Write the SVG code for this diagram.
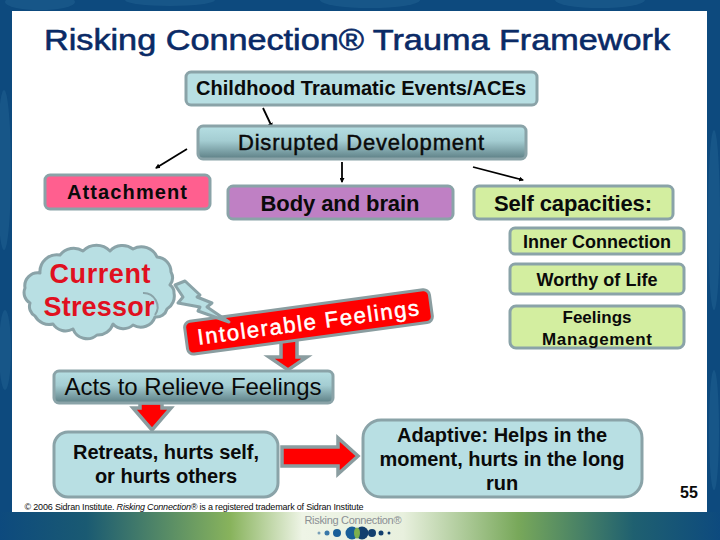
<svg xmlns="http://www.w3.org/2000/svg" width="720" height="540" viewBox="0 0 720 540">
<style>
text{font-family:"Liberation Sans",Arial,sans-serif;fill:#0a0a0a;text-anchor:middle}
.b{font-weight:bold}
.m{stroke:#0a0a0a;stroke-width:.45}
.box{stroke:#8aa3a8;stroke-width:3}
.blue{fill:#b8dfe3}
.lime{fill:#d3eea0}
.flow{stroke:#000;stroke-width:1.800;fill:none;marker-end:url(#tip)}
.blk{fill:#f00;stroke:#8a9da0;stroke-width:3.500;stroke-linejoin:miter}
.bg{fill:#20608f;opacity:.55}
</style>
<defs>
<marker id="tip" markerUnits="userSpaceOnUse" markerWidth="5" markerHeight="5" refX="4" refY="2.500" orient="auto"><path d="M0 0L5 2.500L0 5z" fill="#000"/></marker>
<linearGradient id="steel" x1="0" y1="0" x2="0" y2="1"><stop offset="0" stop-color="#b6dfe3"/><stop offset=".45" stop-color="#a4cdd2"/><stop offset="1" stop-color="#5d7f85"/></linearGradient>
<linearGradient id="foot" x1="0" y1="0" x2="1" y2="0"><stop offset="0" stop-color="#0d4a7e"/><stop offset=".12" stop-color="#1a5a72"/><stop offset=".32" stop-color="#88b35c"/><stop offset=".42" stop-color="#eef4e6"/><stop offset=".56" stop-color="#e8f0de"/><stop offset=".72" stop-color="#78a85a"/><stop offset=".88" stop-color="#1f6070"/><stop offset="1" stop-color="#0d4a7e"/></linearGradient>
</defs>

<rect width="720" height="540" fill="#0d4a7e"/>
<ellipse class="bg" cx="40" cy="2" rx="35" ry="8"/><ellipse class="bg" cx="170" cy="0" rx="45" ry="6"/><ellipse class="bg" cx="370" cy="0" rx="50" ry="8"/><ellipse class="bg" cx="600" cy="0" rx="45" ry="8"/>
<ellipse class="bg" cx="4" cy="170" rx="7" ry="80"/><ellipse class="bg" cx="5" cy="350" rx="6" ry="40"/><ellipse class="bg" cx="714" cy="220" rx="6" ry="90"/><ellipse class="bg" cx="714" cy="430" rx="5" ry="60"/>
<rect x="12" y="11" width="695" height="501" fill="#fff"/>
<rect x="0" y="512" width="720" height="28" fill="url(#foot)"/>

<text id="title" x="357" y="50" font-size="30" textLength="626" lengthAdjust="spacingAndGlyphs" style="fill:#0a2a66;stroke:#0a2a66;stroke-width:.6">Risking Connection® Trauma Framework</text>

<g id="connectors">
<path class="flow" d="M263 108L272 127"/>
<path class="flow" d="M187 149L156 168"/>
<path class="flow" d="M342 162V182"/>
<path class="flow" d="M473 167L523 180"/>
<path class="blk" d="M281 340H297V357H307L288 370L269 357H281z"/>
<path class="blk" d="M140 403H162V408H171L152 430L133 408H140z"/>
<path class="blk" d="M282 447H338V438L358 456L338 474V466H282z"/>
</g>

<g id="childhood"><rect class="box blue" x="186" y="72" width="351" height="33" rx="5"/><text class="b" x="361" y="95" font-size="20" textLength="330">Childhood Traumatic Events/ACEs</text></g>
<g id="disrupted"><rect class="box" fill="url(#steel)" x="198" y="126" width="328" height="33" rx="5"/><text class="m" x="361" y="150" font-size="22" textLength="246">Disrupted Development</text></g>
<g id="attachment"><rect class="box" fill="#ff5f8f" x="45" y="175" width="165" height="34" rx="5"/><text class="b" x="127" y="199" font-size="20" textLength="120">Attachment</text></g>
<g id="body-brain"><rect class="box" fill="#bf80c4" x="228" y="186" width="225" height="33" rx="5"/><text class="b" x="340" y="211" font-size="22" textLength="159">Body and brain</text></g>
<g id="self-capacities"><rect class="box lime" x="474" y="186" width="199" height="33" rx="5"/><text class="b" x="573" y="211" font-size="22" textLength="158">Self capacities:</text></g>
<g id="inner-connection"><rect class="box lime" x="510" y="228" width="174" height="26" rx="5"/><text class="b" x="597" y="248" font-size="18" textLength="148">Inner Connection</text></g>
<g id="worthy"><rect class="box lime" x="510" y="264" width="174" height="30" rx="5"/><text class="b" x="597" y="286" font-size="18" textLength="121">Worthy of Life</text></g>
<g id="feelings-management"><rect class="box lime" x="510" y="306" width="174" height="42" rx="6"/><text class="b" x="597" y="323" font-size="17">Feelings</text><text class="b" x="597" y="345" font-size="17" textLength="110">Management</text></g>

<g id="intolerable" transform="rotate(-7.7 308 322)"><rect x="185" y="305.500" width="247" height="33" rx="6" fill="#f00" stroke="#8a9da0" stroke-width="3"/><text x="308" y="330" font-size="22" textLength="223" style="fill:#fff;stroke:#fff;stroke-width:.5">Intolerable Feelings</text></g>

<g id="stressor">
<path class="box blue" stroke-linejoin="round" d="M175 285L185 281L200 295L197 297L212 303L207 307L229 322L198 311L200 307L178 303L183 297z"/>
<path class="box blue" stroke-linejoin="round" d="M40 273A17 17 0 0 1 60 255A17 17 0 0 1 83 251A19 19 0 0 1 110 251A17 17 0 0 1 133 249A17 17 0 0 1 157 257A15 15 0 0 1 171 272A12 12 0 0 1 170 285A9 9 0 0 1 174 293A15 15 0 0 1 167 309A11 11 0 0 1 155 317A15 15 0 0 1 133 325A14 14 0 0 1 113 324A16 16 0 0 1 97 335A15 15 0 0 1 73 329A15 15 0 0 1 53 324A16 16 0 0 1 35 316A11 11 0 0 1 30 303A12 12 0 0 1 25 288A13 13 0 0 1 40 273z"/>
<path d="M143 293A14 14 0 0 1 155 315" fill="none" stroke="#8aa3a8" stroke-width="2"/>
<text class="b" x="100" y="283" font-size="27" textLength="101" style="fill:#e01020">Current</text>
<text class="b" x="99" y="316" font-size="27" textLength="111" style="fill:#e01020">Stressor</text>
</g>

<g id="acts"><rect class="box" fill="url(#steel)" x="54" y="371" width="279" height="32" rx="5"/><text x="193" y="395" font-size="24" textLength="257">Acts to Relieve Feelings</text></g>
<g id="retreats"><rect class="box blue" x="54" y="432" width="224" height="65" rx="14"/><text class="b" x="166" y="459" font-size="20" textLength="186">Retreats, hurts self,</text><text class="b" x="166" y="483" font-size="20">or hurts others</text></g>
<g id="adaptive"><rect class="box blue" x="363" y="420" width="279" height="77" rx="18"/><text class="b" x="502" y="442" font-size="20" textLength="210">Adaptive: Helps in the</text><text class="b" x="502" y="466" font-size="20" textLength="245">moment, hurts in the long</text><text class="b" x="502" y="490" font-size="20">run</text></g>

<text id="page" class="b" x="689" y="498" font-size="16">55</text>
<text id="copyright" x="194" y="510" font-size="9" textLength="339">© 2006 Sidran Institute. <tspan font-style="italic">Risking Connection®</tspan> is a registered trademark of Sidran Institute</text>

<g id="logo">
<text x="353" y="524" font-size="11" textLength="97" style="fill:#8a8f94">Risking Connection®</text>
<circle cx="319" cy="533" r="1.500" fill="#7aa0b8"/><circle cx="327" cy="533" r="2.500" fill="#3a78a8"/><circle cx="337" cy="533" r="4" fill="#1a5f98"/><circle cx="352" cy="533" r="6.500" fill="#1a5f98"/><circle cx="362" cy="533" r="6.500" fill="#123f6e"/><ellipse cx="357" cy="533" rx="3" ry="5.500" fill="#7fb04e"/><circle cx="372" cy="533" r="4" fill="#123f6e"/><circle cx="381" cy="533" r="2.500" fill="#123f6e"/><circle cx="389" cy="533" r="1.500" fill="#123f6e"/>
</g>
</svg>
